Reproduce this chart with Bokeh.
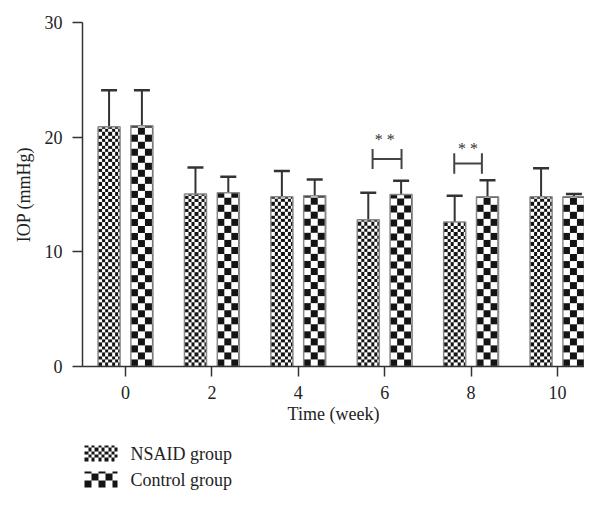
import numpy as np
from bokeh.plotting import figure
from bokeh.layouts import column
from bokeh.models import Range1d, Whisker, TeeHead, ColumnDataSource, FixedTicker
from bokeh.core.properties import value
from bokeh.embed import file_html
from bokeh.resources import INLINE

# ---- data ----
weeks = [0, 2, 4, 6, 8, 10]
week_labels = ["0", "2", "4", "6", "8", "10"]
nsaid_mean = [20.9, 15.05, 14.8, 12.8, 12.6, 14.8]
nsaid_upper = [24.1, 17.35, 17.05, 15.15, 14.9, 17.3]
control_mean = [21.0, 15.15, 14.9, 15.0, 14.8, 14.8]
control_upper = [24.1, 16.55, 16.3, 16.2, 16.25, 15.05]
y_ticks = [0, 10, 20, 30]
series_names = ["NSAID group", "Control group"]

# significance brackets (week 6, week 8)
sig_left = [5.72, 7.61]
sig_right = [6.39, 8.25]
sig_y = [18.1, 17.7]
sig_half = [0.87, 0.89]
sig_star_x = [6.0, 7.93]
sig_star_y = [19.8, 19.0]
sig_text = ["* *", "* *"]

# ---- style / layout ----
FONT = "Liberation Serif"
INK = "#333333"
OFF = 0.38
BAR_W = 0.51
W, H_MAIN, H_LEG = 584, 430, 61
LEFT, TOP, BOTTOM = 82, 22, 64
X0, X1 = -0.995, 10.625
PX_X = (W - LEFT) / (X1 - X0)
PX_Y = (H_MAIN - TOP - BOTTOM) / 30.0
CELL_SMALL, CELL_BIG = 10 / 3, 7.0
DARK = np.uint32(0xFF141414)
LIGHT = np.uint32(0xFFFFFFFF)


def checker(w_px, h_px, cell):
    jj, ii = np.meshgrid(np.arange(w_px), np.arange(h_px))
    dark = ((np.floor(jj / cell) + np.floor(ii / cell)) % 2) == 0
    return np.where(dark, DARK, LIGHT).astype(np.uint32)


p = figure(width=W, height=H_MAIN, output_backend="svg", toolbar_location=None,
           title=None, x_range=Range1d(X0, X1), y_range=Range1d(0, 30),
           min_border_left=LEFT, min_border_right=0, min_border_top=TOP,
           min_border_bottom=BOTTOM)
p.outline_line_color = None
p.grid.visible = False

src_n = ColumnDataSource(dict(x=[w - OFF for w in weeks], top=nsaid_mean, upper=nsaid_upper))
src_c = ColumnDataSource(dict(x=[w + OFF for w in weeks], top=control_mean, upper=control_upper))

bar_px = int(round(BAR_W * PX_X))
for src, cell in ((src_n, CELL_SMALL), (src_c, CELL_BIG)):
    xs = src.data["x"]
    tops = src.data["top"]
    imgs = [checker(bar_px, int(round(t * PX_Y)), cell) for t in tops]
    p.image_rgba(image=imgs, x=[x - BAR_W / 2 for x in xs], y=[0] * len(xs),
                 dw=[BAR_W] * len(xs), dh=list(tops))
    p.vbar(x="x", top="top", bottom=0, width=BAR_W, source=src,
           fill_color=None, line_color="#888888", line_width=1.5)
    p.add_layout(Whisker(source=src, base="x", lower="top", upper="upper",
                         dimension="height", line_color=INK, line_width=2,
                         lower_head=None,
                         upper_head=TeeHead(size=16, line_color=INK, line_width=2.5)))

# brackets
p.segment(x0=sig_left, y0=sig_y, x1=sig_right, y1=sig_y, line_color="#444444", line_width=2)
p.segment(x0=sig_left, y0=[y - h for y, h in zip(sig_y, sig_half)],
          x1=sig_left, y1=[y + h for y, h in zip(sig_y, sig_half)],
          line_color="#444444", line_width=2)
p.segment(x0=sig_right, y0=[y - h for y, h in zip(sig_y, sig_half)],
          x1=sig_right, y1=[y + h for y, h in zip(sig_y, sig_half)],
          line_color="#444444", line_width=2)
p.text(x=sig_star_x, y=sig_star_y, text=sig_text, text_align="center",
       text_baseline="middle", text_font=value(FONT), text_font_size="16px",
       text_color="#333333")

# axes
p.xaxis.ticker = FixedTicker(ticks=weeks)
p.xaxis.major_label_overrides = {w: l for w, l in zip(weeks, week_labels)}
p.yaxis.ticker = FixedTicker(ticks=y_ticks)
p.xaxis.axis_label = "Time (week)"
p.yaxis.axis_label = "IOP (mmHg)"
for ax in (p.xaxis[0], p.yaxis[0]):
    ax.axis_line_color = INK
    ax.axis_line_width = 1.5
    ax.major_tick_line_color = INK
    ax.major_tick_line_width = 1.5
    ax.major_tick_out = 10
    ax.major_tick_in = 0
    ax.minor_tick_line_color = None
    ax.major_label_text_font = FONT
    ax.major_label_text_font_size = "18px"
    ax.major_label_text_color = "#222222"
    ax.axis_label_text_font = FONT
    ax.axis_label_text_font_size = "18px"
    ax.axis_label_text_font_style = "normal"
    ax.axis_label_text_color = "#222222"
p.xaxis.major_label_standoff = 9
p.xaxis.axis_label_standoff = 2
p.yaxis.major_label_standoff = 10
p.yaxis.axis_label_standoff = 8

# legend strip (data units = pixels)
p2 = figure(width=W, height=H_LEG, output_backend="svg", toolbar_location=None,
            title=None, x_range=Range1d(LEFT, W), y_range=Range1d(0, H_LEG),
            x_axis_location=None, y_axis_location=None,
            min_border_left=LEFT, min_border_right=0,
            min_border_top=0, min_border_bottom=0)
p2.outline_line_color = None
p2.grid.visible = False
SW_X, SW_W, SW_H = 84, 33, 16
leg_y = [38.0, 12.0]
sw_imgs = [checker(SW_W, SW_H, CELL_SMALL), checker(SW_W, SW_H, CELL_BIG)]
p2.image_rgba(image=sw_imgs, x=[SW_X] * 2, y=[c - SW_H / 2 for c in leg_y],
              dw=[SW_W] * 2, dh=[SW_H] * 2)
p2.text(x=[130] * 2, y=leg_y, text=series_names, text_align="left",
        text_baseline="middle", text_font=value(FONT), text_font_size="18px",
        text_color="#222222")

open("out.html", "w").write(file_html(column(p, p2, spacing=0), INLINE))
